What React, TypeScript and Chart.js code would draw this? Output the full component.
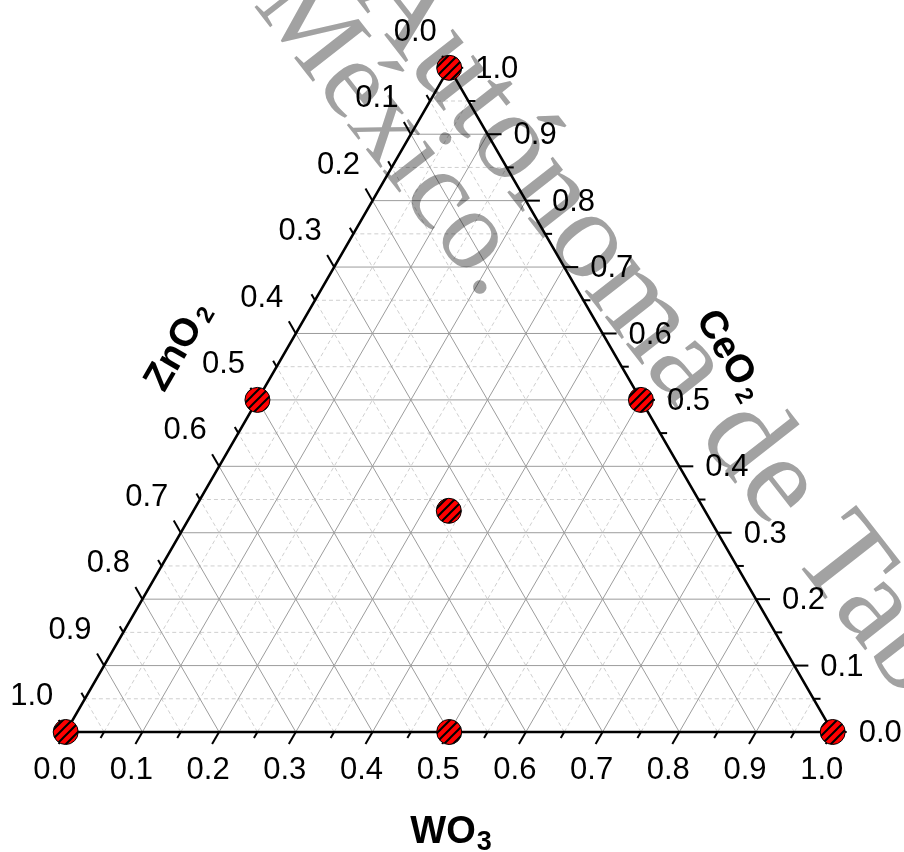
import React, { useEffect, useRef } from "react";
import { Chart, registerables } from "chart.js";

Chart.register(...registerables);

// Sample compositions (fractions of WO3, CeO2, ZnO2)
const WO3 = [0, 0.5, 1, 0, 0, 0.5, 0.333];
const CeO2 = [0, 0, 0, 1, 0.5, 0.5, 0.333];
const ZnO2 = [1, 0.5, 0, 0, 0.5, 0, 0.334];

// Axis tick values / labels
const TICK_VALUES = [0, 0.1, 0.2, 0.3, 0.4, 0.5, 0.6, 0.7, 0.8, 0.9, 1.0];
const TICK_LABELS = ["0.0", "0.1", "0.2", "0.3", "0.4", "0.5", "0.6", "0.7", "0.8", "0.9", "1.0"];
const MINOR_VALUES = [0.05, 0.15, 0.25, 0.35, 0.45, 0.55, 0.65, 0.75, 0.85, 0.95];

// Axis titles [main, subscript]
const BOTTOM_TITLE = ["WO", "3"];
const RIGHT_TITLE = ["CeO", "2"];
const LEFT_TITLE = ["ZnO", "2"];

// Watermark text
const WATERMARK_A = "Autónoma de Tabasco";
const WATERMARK_B = "México.";

const SQ = Math.sqrt(3) / 2;

function makeHatch(): CanvasPattern | string {
  const s = 9;
  const c = document.createElement("canvas");
  c.width = s;
  c.height = s;
  const g = c.getContext("2d");
  if (!g) return "#ff0000";
  g.fillStyle = "#ff0000";
  g.fillRect(0, 0, s, s);
  g.strokeStyle = "#000";
  g.lineWidth = 2;
  g.beginPath();
  for (const k of [0, s, 2 * s]) {
    g.moveTo(k + 1, -1);
    g.lineTo(k - s - 1, s + 1);
  }
  g.stroke();
  const p = g.createPattern(c, "repeat");
  return p || "#ff0000";
}

function drawTitle(
  ctx: CanvasRenderingContext2D,
  main: string,
  sub: string,
  cx: number,
  cy: number,
  angle: number,
  size: number,
  subSize: number,
  subDrop: number,
  gap: number
) {
  ctx.save();
  ctx.translate(cx, cy);
  ctx.rotate(angle);
  ctx.fillStyle = "#000";
  ctx.textAlign = "left";
  ctx.textBaseline = "alphabetic";
  ctx.font = `bold ${size}px "Liberation Sans", Arial, sans-serif`;
  const mw = ctx.measureText(main).width;
  ctx.font = `bold ${subSize}px "Liberation Sans", Arial, sans-serif`;
  const sw = ctx.measureText(sub).width;
  const total = mw + sw + gap;
  const base = (0.716 * size) / 2;
  ctx.font = `bold ${size}px "Liberation Sans", Arial, sans-serif`;
  ctx.fillText(main, -total / 2, base);
  ctx.font = `bold ${subSize}px "Liberation Sans", Arial, sans-serif`;
  ctx.fillText(sub, -total / 2 + mw + gap, base + subDrop);
  ctx.restore();
}

function drawAnchored(
  ctx: CanvasRenderingContext2D,
  text: string,
  idx: number,
  cx: number,
  cy: number,
  angle: number,
  size: number
) {
  ctx.font = `${size}px "Liberation Serif", "Times New Roman", serif`;
  const pre = ctx.measureText(text.slice(0, idx)).width;
  const cw = ctx.measureText(text[idx]).width;
  ctx.save();
  ctx.translate(cx, cy);
  ctx.rotate(angle);
  ctx.textAlign = "left";
  ctx.textBaseline = "alphabetic";
  ctx.fillText(text, -(pre + cw / 2), size * 0.23);
  ctx.restore();
}

const ternaryPlugin = {
  id: "ternaryFrame",
  beforeDatasetsDraw(chart: any) {
    const ctx: CanvasRenderingContext2D = chart.ctx;
    const xs = chart.scales.x;
    const ys = chart.scales.y;
    const P = (w: number, c: number) => ({
      x: xs.getPixelForValue(w + c / 2),
      y: ys.getPixelForValue(c * SQ),
    });
    const line = (a: { x: number; y: number }, b: { x: number; y: number }) => {
      ctx.beginPath();
      ctx.moveTo(a.x, a.y);
      ctx.lineTo(b.x, b.y);
      ctx.stroke();
    };

    ctx.save();
    // minor grid
    ctx.strokeStyle = "#cfcfcf";
    ctx.lineWidth = 1;
    ctx.setLineDash([4, 3]);
    for (const t of MINOR_VALUES) {
      line(P(t, 0), P(t, 1 - t));
      line(P(0, t), P(1 - t, t));
      line(P(1 - t, 0), P(0, 1 - t));
    }
    // major grid
    ctx.setLineDash([]);
    ctx.strokeStyle = "#9c9c9c";
    for (const t of TICK_VALUES) {
      if (t <= 0 || t >= 1) continue;
      line(P(t, 0), P(t, 1 - t));
      line(P(0, t), P(1 - t, t));
      line(P(1 - t, 0), P(0, 1 - t));
    }

    // ticks
    ctx.strokeStyle = "#000";
    ctx.lineWidth = 2;
    const tick = (t: number, len: number) => {
      let b = P(t, 0);
      line(b, { x: b.x - 0.5 * len, y: b.y + SQ * len });
      b = P(1 - t, t);
      line(b, { x: b.x + len, y: b.y });
      b = P(0, 1 - t);
      line(b, { x: b.x - 0.5 * len, y: b.y - SQ * len });
    };
    for (const t of TICK_VALUES) tick(t, 14);
    for (const t of MINOR_VALUES) tick(t, 7);

    // triangle frame
    ctx.lineWidth = 2.5;
    ctx.lineJoin = "miter";
    const A = P(0, 0), B = P(1, 0), C = P(0, 1);
    ctx.beginPath();
    ctx.moveTo(A.x, A.y);
    ctx.lineTo(B.x, B.y);
    ctx.lineTo(C.x, C.y);
    ctx.closePath();
    ctx.stroke();

    // tick labels
    const fs = 31;
    ctx.fillStyle = "#000";
    ctx.font = `${fs}px "Liberation Sans", Arial, sans-serif`;
    ctx.textBaseline = "alphabetic";
    const dy = fs * 0.36;
    TICK_VALUES.forEach((v, i) => {
      const lab = TICK_LABELS[i];
      let p = P(v, 0);
      ctx.textAlign = "center";
      ctx.fillText(lab, p.x - 11, p.y + 36 + dy);
      p = P(1 - v, v);
      ctx.textAlign = "left";
      ctx.fillText(lab, p.x + 26, p.y - 1 + dy);
      p = P(0, 1 - v);
      ctx.textAlign = "center";
      ctx.fillText(lab, p.x - 34, p.y - 38 + dy);
    });

    // axis titles
    drawTitle(ctx, BOTTOM_TITLE[0], BOTTOM_TITLE[1], 451, 829, 0, 38, 27, 7, 1);
    drawTitle(ctx, LEFT_TITLE[0], LEFT_TITLE[1], 176, 345, -Math.PI / 3, 39, 24, 4, 4);
    drawTitle(ctx, RIGHT_TITLE[0], RIGHT_TITLE[1], 732, 354, Math.PI / 3, 39, 24, 4, 4);
    ctx.restore();
  },
  afterDraw(chart: any) {
    const ctx: CanvasRenderingContext2D = chart.ctx;
    ctx.save();
    ctx.globalCompositeOperation = "multiply";
    ctx.fillStyle = "#a2a2a2";
    const ang = (52 * Math.PI) / 180;
    drawAnchored(ctx, WATERMARK_A, 6, 636, 310, ang, 126);
    drawAnchored(ctx, WATERMARK_B, 4, 437, 198, ang, 114);
    ctx.restore();
  },
};

export default function App() {
  const ref = useRef<HTMLCanvasElement | null>(null);

  useEffect(() => {
    const canvas = ref.current;
    if (!canvas) return;
    const pts = WO3.map((w, i) => {
      const s = w + CeO2[i] + ZnO2[i];
      const a = w / s;
      const c = CeO2[i] / s;
      return { x: a + c / 2, y: c * SQ };
    });
    const chart = new Chart(canvas, {
      type: "scatter",
      data: {
        datasets: [
          {
            data: pts,
            pointRadius: 12.5,
            pointHoverRadius: 12.5,
            pointBorderWidth: 1,
            pointBorderColor: "#000",
            pointBackgroundColor: makeHatch() as any,
            showLine: false,
            clip: false as any,
          },
        ],
      },
      options: {
        responsive: false,
        animation: false,
        devicePixelRatio: 1,
        layout: { padding: { left: 65.7, right: 904 - 832.7, top: 67.8, bottom: 852 - 732 } },
        plugins: { legend: { display: false }, tooltip: { enabled: false } },
        scales: {
          x: { type: "linear", min: 0, max: 1, display: false },
          y: { type: "linear", min: 0, max: SQ, display: false },
        },
      },
      plugins: [ternaryPlugin],
    });
    return () => chart.destroy();
  }, []);

  return (
    <div style={{ position: "absolute", left: 0, top: 0, width: 904, height: 852, background: "#fff" }}>
      <canvas ref={ref} width={904} height={852} style={{ display: "block" }} />
    </div>
  );
}
